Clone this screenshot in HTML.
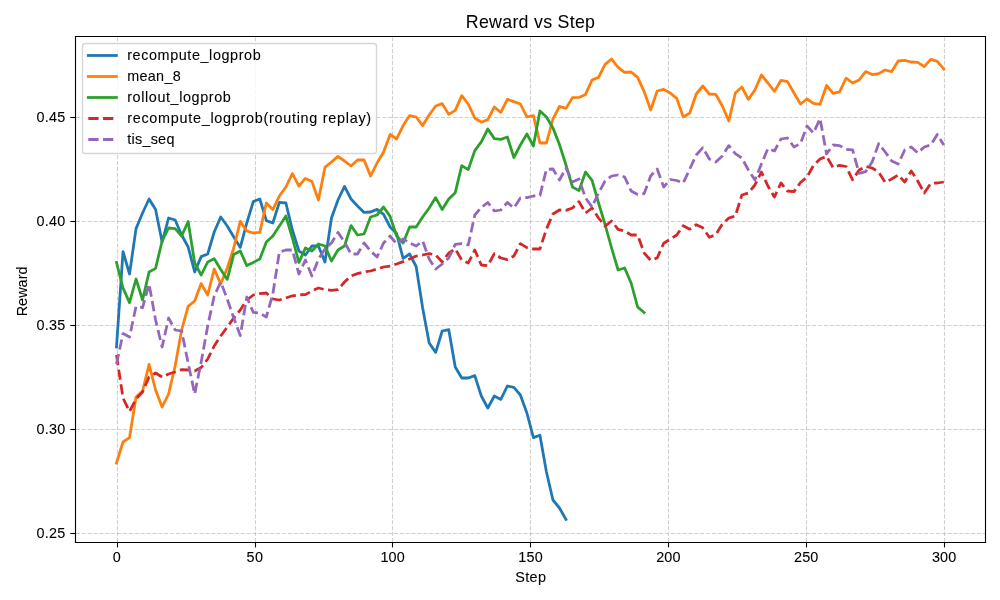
<!DOCTYPE html>
<html lang="en">
<head>
<meta charset="utf-8">
<title>Reward vs Step</title>
<style>
html,body{margin:0;padding:0;background:#fff;}
body{width:1000px;height:600px;overflow:hidden;font-family:"Liberation Sans",sans-serif;}
svg{display:block;will-change:transform;}
text{font-family:"Liberation Sans",sans-serif;fill:#000;stroke:#000;stroke-width:0.09px;}
</style>
</head>
<body>
<svg width="1000" height="600" viewBox="0 0 1000 600">
<rect x="0" y="0" width="1000" height="600" fill="#ffffff"/>
<g id="grid" stroke="#b0b0b0" stroke-opacity="0.6" stroke-width="1.11" stroke-dasharray="4.11 1.78" fill="none">
<path d="M117.5 542.0V36.3"/>
<path d="M255.5 542.0V36.3"/>
<path d="M392.5 542.0V36.3"/>
<path d="M530.5 542.0V36.3"/>
<path d="M668.5 542.0V36.3"/>
<path d="M806.5 542.0V36.3"/>
<path d="M944.5 542.0V36.3"/>
<path d="M75.8 533.5H985.8"/>
<path d="M75.8 429.5H985.8"/>
<path d="M75.8 325.5H985.8"/>
<path d="M75.8 221.5H985.8"/>
<path d="M75.8 117.5H985.8"/>
</g>
<defs><clipPath id="ax"><rect x="75.8" y="36.3" width="910.0" height="505.7"/></clipPath></defs>
<g id="lines" clip-path="url(#ax)" fill="none" stroke-width="2.78" stroke-linejoin="round">
<polyline stroke="#1f77b4" stroke-linecap="square" points="116.5,347 123.01,251.6 129.53,274 136.04,228.6 142.56,213 149.07,199 155.59,209.6 162.1,242 168.61,218 175.13,220 181.64,235 188.16,247 194.67,272 201.19,256.6 207.7,254 214.21,232 220.73,217 227.24,226 233.76,237 240.27,247.4 246.79,223 253.3,201.6 259.81,199 266.33,220.6 272.84,223 279.36,202.4 285.87,203 292.38,230 298.9,251 305.41,255 311.93,246 318.44,246 324.96,262 331.47,218 337.98,200 344.5,186.4 351.01,199 357.53,206 364.04,212.4 370.56,212 377.07,209.4 383.58,214.4 390.1,227 396.61,233.6 403.13,258.4 409.64,254 416.16,266.5 422.67,308 429.18,343 435.7,352.4 442.21,331 448.73,329.6 455.24,367 461.76,378 468.27,378 474.78,375.6 481.3,396 487.81,408 494.33,396 500.84,399.4 507.36,386 513.87,387.4 520.38,395 526.9,413 533.41,437.6 539.93,435.2 546.44,472 552.95,500 559.47,508 565.98,519.4"/>
<polyline stroke="#ff7f0e" stroke-linecap="square" points="116.5,463 123.01,442 129.53,437.6 136.04,397 142.56,391 149.07,364.4 155.59,390 162.1,407 168.61,394 175.13,366 181.64,330 188.16,306.4 194.67,301 201.19,283.6 207.7,295 214.21,269 220.73,284 227.24,268 233.76,248 240.27,221.4 246.79,231 253.3,233 259.81,232.4 266.33,203 272.84,209.6 279.36,196 285.87,187 292.38,173.6 298.9,186 305.41,178.4 311.93,181.6 318.44,200 324.96,167.4 331.47,162 337.98,156.4 344.5,161 351.01,166 357.53,160 364.04,160 370.56,176 377.07,163 383.58,152 390.1,134.4 396.61,139 403.13,125.6 409.64,115.6 416.16,117 422.67,125.6 429.18,115 435.7,106 442.21,103.6 448.73,114.4 455.24,110.4 461.76,95.6 468.27,104 474.78,118 481.3,122.2 487.81,119.6 494.33,107 500.84,112.4 507.36,99.4 513.87,101.6 520.38,104 526.9,117 533.41,115.6 539.93,143 546.44,143 552.95,119 559.47,106.4 565.98,108.4 572.5,97.6 579.01,97.4 585.53,94.4 592.04,80 598.55,77.4 605.07,64.4 611.58,59 618.1,67.4 624.61,72.4 631.13,72 637.64,77.4 644.15,91.6 650.67,110 657.18,91 663.7,89.4 670.21,93 676.73,98.4 683.24,117 689.75,113 696.27,94 702.78,86 709.3,94 715.81,94.4 722.33,106 728.84,121 735.35,93 741.87,87 748.38,99.4 754.9,90 761.41,75 767.93,83 774.44,91.4 780.95,80.4 787.47,81.6 793.98,93 800.5,104 807.01,99 813.52,103.4 820.04,104.4 826.55,85.5 833.07,93.4 839.58,91.8 846.1,78.2 852.61,83 859.12,80 865.64,71.6 872.15,74.6 878.67,73.6 885.18,70 891.7,71.6 898.21,61 904.72,60.4 911.24,62 917.75,62.4 924.27,66.6 930.78,59.4 937.3,61.4 943.81,69"/>
<polyline stroke="#2ca02c" stroke-linecap="square" points="116.5,262.5 123.01,288 129.53,302.6 136.04,279 142.56,300 149.07,272 155.59,268.4 162.1,241 168.61,228 175.13,228.6 181.64,236 188.16,221.5 194.67,263 201.19,275 207.7,262 214.21,258.8 220.73,269.5 227.24,279.4 233.76,254.4 240.27,251 246.79,265.6 253.3,262.4 259.81,259 266.33,242 272.84,236 279.36,226 285.87,216 292.38,238 298.9,262.5 305.41,248 311.93,251 318.44,244 324.96,246 331.47,261 337.98,250 344.5,246 351.01,225.6 357.53,235 364.04,234 370.56,217 377.07,215 383.58,207 390.1,216.4 396.61,236 403.13,243 409.64,227 416.16,227 422.67,217 429.18,208 435.7,197.6 442.21,209.6 448.73,199 455.24,192.7 461.76,165.6 468.27,169.6 474.78,150.6 481.3,141.8 487.81,129 494.33,138.6 500.84,139.4 507.36,137 513.87,157.5 520.38,145 526.9,134 533.41,146 539.93,111 546.44,117 552.95,128 559.47,144.5 565.98,165 572.5,187 579.01,190.6 585.53,172 592.04,180.4 598.55,203 605.07,224.5 611.58,248 618.1,270 624.61,268 631.13,283 637.64,307 644.15,312.6"/>
<polyline stroke="#d62728" stroke-dasharray="10.311 4.458" stroke-linecap="butt" points="116.5,355 123.01,398 129.53,411.5 136.04,399 142.56,392 149.07,377 155.59,373 162.1,377 168.61,374 175.13,372 181.64,369.6 188.16,370 194.67,371 201.19,367.5 207.7,359 214.21,346 220.73,336 227.24,327 233.76,318 240.27,310 246.79,300 253.3,295 259.81,293.6 266.33,293 272.84,299 279.36,300 285.87,298 292.38,295.8 298.9,294.8 305.41,294.6 311.93,291 318.44,288 324.96,289.6 331.47,290.4 337.98,289.6 344.5,282 351.01,276 357.53,273.6 364.04,272 370.56,271 377.07,269 383.58,267 390.1,266 396.61,264 403.13,261.6 409.64,259 416.16,256 422.67,255 429.18,253.6 435.7,255 442.21,262 448.73,253 455.24,249 461.76,260 468.27,263 474.78,250 481.3,265 487.81,265.8 494.33,253.6 500.84,258 507.36,259.6 513.87,256 520.38,243.6 526.9,247.6 533.41,249 539.93,249 546.44,229 552.95,214 559.47,210 565.98,210.4 572.5,208 579.01,201.6 585.53,213 592.04,208 598.55,218 605.07,226.2 611.58,221 618.1,229.3 624.61,231 631.13,235 637.64,235 644.15,253 650.67,260.3 657.18,258 663.7,243.2 670.21,239.3 676.73,235 683.24,225.8 689.75,229.2 696.27,224.7 702.78,227.8 709.3,237.3 715.81,234.7 722.33,224 728.84,218 735.35,216 741.87,195 748.38,193 754.9,185 761.41,172 767.93,186 774.44,197 780.95,183 787.47,191 793.98,191.6 800.5,182.5 807.01,177 813.52,165.5 820.04,159 826.55,156.3 833.07,167.6 839.58,165.3 846.1,166.5 852.61,179.8 859.12,170 865.64,166.5 872.15,168 878.67,172 885.18,182.4 891.7,179 898.21,175 904.72,182 911.24,171 917.75,181 924.27,193 930.78,183.4 937.3,183 943.81,182"/>
<polyline stroke="#9467bd" stroke-dasharray="10.311 4.458" stroke-linecap="butt" points="116.5,364 123.01,333.6 129.53,337 136.04,306.4 142.56,307.6 149.07,284 155.59,320 162.1,347 168.61,318 175.13,330 181.64,331 188.16,363 194.67,394 201.19,362 207.7,326 214.21,296 220.73,282 227.24,299 233.76,318 240.27,335.6 246.79,297 253.3,312.4 259.81,313 266.33,317 272.84,294 279.36,252 285.87,250 292.38,250 298.9,274 305.41,260 311.93,276 318.44,259 324.96,249 331.47,243 337.98,232.4 344.5,242 351.01,254 357.53,254 364.04,243 370.56,251 377.07,257 383.58,243 390.1,236 396.61,244 403.13,239 409.64,243 416.16,246 422.67,241 429.18,259 435.7,269 442.21,264 448.73,258 455.24,244.4 461.76,243.6 468.27,245 474.78,215 481.3,207.5 487.81,202.5 494.33,211 500.84,210 507.36,202.4 513.87,208 520.38,198 526.9,197.6 533.41,196 539.93,195.6 546.44,169.4 552.95,169 559.47,180 565.98,168 572.5,182 579.01,179 585.53,198 592.04,207 598.55,193 605.07,181 611.58,176 618.1,175 624.61,177 631.13,191 637.64,194.4 644.15,193.6 650.67,176 657.18,169 663.7,187 670.21,179.5 676.73,180.5 683.24,183 689.75,169 696.27,155 702.78,147.6 709.3,159 715.81,162 722.33,156 728.84,145.6 735.35,153.6 741.87,158 748.38,170 754.9,180 761.41,164 767.93,148.6 774.44,151 780.95,139 787.47,138 793.98,147 800.5,143.5 807.01,126 813.52,133 820.04,118.5 826.55,154 833.07,145 839.58,145.6 846.1,149.3 852.61,149.8 859.12,173.3 865.64,171.6 872.15,162 878.67,143.6 885.18,152 891.7,161 898.21,164 904.72,150 911.24,147 917.75,153 924.27,147 930.78,145 937.3,134.4 943.81,145"/>
</g>
<g id="spines" stroke="#000" stroke-width="1.11" fill="none" stroke-linecap="square">
<path d="M75.5 36.5V542.5"/><path d="M985.5 36.5V542.5"/><path d="M75.5 36.5H985.5"/><path d="M75.5 542.5H985.5"/>
</g>
<g id="ticks" stroke="#000" stroke-width="1.11" fill="none">
<path d="M117.5 542.0v5.4"/><path d="M255.5 542.0v5.4"/><path d="M392.5 542.0v5.4"/><path d="M530.5 542.0v5.4"/><path d="M668.5 542.0v5.4"/><path d="M806.5 542.0v5.4"/><path d="M944.5 542.0v5.4"/><path d="M75.8 533.5h-5.5"/><path d="M75.8 429.5h-5.5"/><path d="M75.8 325.5h-5.5"/><path d="M75.8 221.5h-5.5"/><path d="M75.8 117.5h-5.5"/>
</g>
<g id="xticklabels" font-size="14.4" text-anchor="middle">
<text x="116.8" y="562.1" textLength="8.8" lengthAdjust="spacing">0</text>
<text x="254.7" y="562.1" textLength="16.5" lengthAdjust="spacing">50</text>
<text x="392.6" y="562.1" textLength="24.2" lengthAdjust="spacing">100</text>
<text x="530.5" y="562.1" textLength="24.4" lengthAdjust="spacing">150</text>
<text x="668.3" y="562.1" textLength="24.3" lengthAdjust="spacing">200</text>
<text x="806.2" y="562.1" textLength="24.3" lengthAdjust="spacing">250</text>
<text x="944.1" y="562.1" textLength="24.3" lengthAdjust="spacing">300</text>
</g>
<g id="yticklabels" font-size="14.4" text-anchor="end">
<text x="65.3" y="538.4" textLength="28.8" lengthAdjust="spacing">0.25</text>
<text x="65.3" y="434.4" textLength="28.8" lengthAdjust="spacing">0.30</text>
<text x="65.3" y="330.4" textLength="28.8" lengthAdjust="spacing">0.35</text>
<text x="65.3" y="226.4" textLength="28.8" lengthAdjust="spacing">0.40</text>
<text x="65.3" y="122.4" textLength="28.8" lengthAdjust="spacing">0.45</text>
</g>
<text x="530.6" y="581.8" font-size="14.4" text-anchor="middle" textLength="30.7" lengthAdjust="spacing">Step</text>
<text transform="translate(26.9 291.4) rotate(-90)" font-size="14.4" text-anchor="middle" textLength="49.9" lengthAdjust="spacing">Reward</text>
<text x="530.4" y="27.5" font-size="17.8" style="stroke-width:0.04px" text-anchor="middle" textLength="129.2" lengthAdjust="spacing">Reward vs Step</text>
<g id="legend">
<rect x="82.5" y="43.5" width="294" height="110" rx="2.8" ry="2.8" fill="#ffffff" fill-opacity="0.8" stroke="#cccccc" stroke-opacity="0.8" stroke-width="1.39"/>
<path d="M88.3 55.5H116.4" stroke="#1f77b4" stroke-width="2.78" stroke-linecap="square" fill="none"/>
<text x="127.2" y="59.6" font-size="14.4" textLength="133.5" lengthAdjust="spacing">recompute_logprob</text>
<path d="M88.3 76.5H116.4" stroke="#ff7f0e" stroke-width="2.78" stroke-linecap="square" fill="none"/>
<text x="127.2" y="80.6" font-size="14.4" textLength="53.5" lengthAdjust="spacing">mean_8</text>
<path d="M88.3 97.5H116.4" stroke="#2ca02c" stroke-width="2.78" stroke-linecap="square" fill="none"/>
<text x="127.2" y="101.6" font-size="14.4" textLength="103.6" lengthAdjust="spacing">rollout_logprob</text>
<path d="M88.3 118.5H116.1" stroke="#d62728" stroke-width="2.78" stroke-dasharray="10.28 4.44" fill="none"/>
<text x="127.2" y="122.6" font-size="14.4" textLength="243.9" lengthAdjust="spacing">recompute_logprob(routing replay)</text>
<path d="M88.3 139.5H116.1" stroke="#9467bd" stroke-width="2.78" stroke-dasharray="10.28 4.44" fill="none"/>
<text x="127.2" y="143.6" font-size="14.4" textLength="47.2" lengthAdjust="spacing">tis_seq</text>
</g>
</svg>
</body>
</html>
